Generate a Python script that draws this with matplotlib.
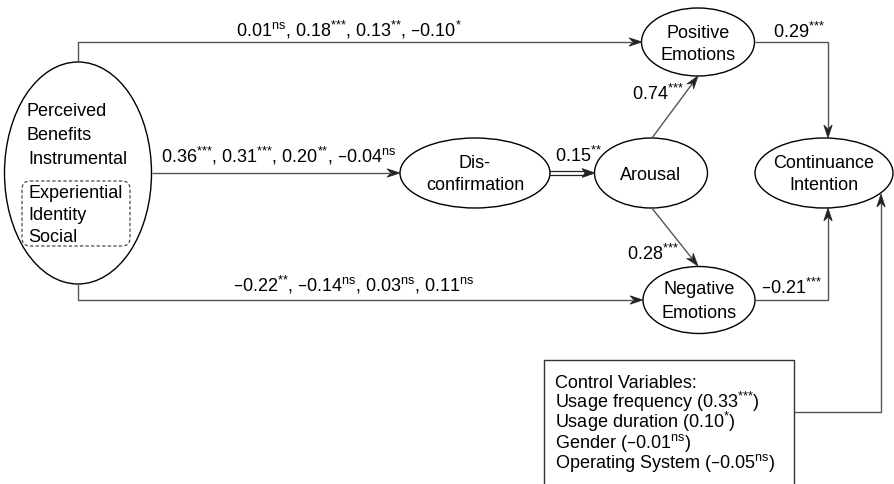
import re
import numpy as np
import matplotlib
matplotlib.use("Agg")
import matplotlib.pyplot as plt
from matplotlib.patches import Ellipse, FancyBboxPatch, Polygon

plt.rcParams['font.family'] = ['Liberation Sans', 'DejaVu Sans']

# ---- data ----
benefit_types = ["Instrumental", "Experiential", "Identity", "Social"]
pb_to_pos = ["0.01ns", "0.18***", "0.13**", "–0.10*"]
pb_to_disc = ["0.36***", "0.31***", "0.20**", "–0.04ns"]
pb_to_neg = ["–0.22**", "–0.14ns", "0.03ns", "0.11ns"]
disc_to_arousal = "0.15**"
arousal_to_pos = "0.74***"
arousal_to_neg = "0.28***"
pos_to_ci = "0.29***"
neg_to_ci = "–0.21***"
control_vars = ["Usage frequency", "Usage duration", "Gender", "Operating System"]
control_coefs = ["0.33***", "0.10*", "–0.01ns", "–0.05ns"]


def fmt(s):
    m = re.match(r"^(.*?)(ns|\*+)$", s)
    if not m:
        return s
    base, sup = m.groups()
    if sup == "ns":
        return base + r"$^{\mathregular{ns}}$"
    return base + "$^{" + r"\mathregular{*}" * len(sup) + "}$"


FS = 13
LC = "#555555"
BL = 6.5  # center -> baseline offset (px)

fig = plt.figure(figsize=(8.94, 4.84), dpi=100)
ax = fig.add_axes([0, 0, 1, 1])
ax.set_xlim(0, 894)
ax.set_ylim(484, 0)
ax.axis("off")


def label(x, y, s, ha="left"):
    ax.text(x, y + BL, s, fontsize=FS, ha=ha, va="baseline")


def ellipse(cx, cy, w, h):
    ax.add_patch(Ellipse((cx, cy), w, h, fill=False, ec="black", lw=1.0))


def head(tip, frm, L=13, W=4.2, notch=4):
    tip = np.array(tip, float)
    d = tip - np.array(frm, float)
    d /= np.hypot(*d)
    n = np.array([-d[1], d[0]])
    pts = [tip, tip - L * d + W * n, tip - (L - notch) * d, tip - L * d - W * n]
    ax.add_patch(Polygon(pts, closed=True, fc="#222222", ec="#222222", lw=0.5))
    return tip - (L - notch) * d


def path(points, arrow=True):
    pts = [np.array(p, float) for p in points]
    if arrow:
        pts[-1] = head(pts[-1], pts[-2])
    ax.plot([p[0] for p in pts], [p[1] for p in pts], color=LC, lw=1.0,
            solid_capstyle="butt")


# ---- nodes ----
ellipse(78, 173, 147, 222)
ax.add_patch(FancyBboxPatch((22, 181), 108, 65,
                            boxstyle="round,pad=0,rounding_size=8",
                            fill=False, ec="#333333", lw=0.8, ls=(0, (3, 2))))
label(26, 110, "Perceived")
label(26, 134, "Benefits")
label(28, 158, benefit_types[0])
for t, y in zip(benefit_types[1:], [192, 213, 235]):
    label(28, y, t)

ellipse(698, 42, 113, 68)
label(698, 31, "Positive", ha="center")
label(698, 53, "Emotions", ha="center")
ellipse(475, 173, 150, 70)
label(475, 162, "Dis-", ha="center")
label(475, 184, "confirmation", ha="center")
ellipse(651, 173, 113, 70)
label(651, 173, "Arousal", ha="center")
ellipse(824, 173, 138, 70)
label(824, 162, "Continuance", ha="center")
label(824, 184, "Intention", ha="center")
ellipse(699, 300, 112, 67)
label(699, 288, "Negative", ha="center")
label(699, 312, "Emotions", ha="center")

# ---- paths ----
path([(78, 62), (78, 42), (642, 42)])
label(236, 30, ", ".join(fmt(s) for s in pb_to_pos))

path([(152, 173), (400, 173)])
label(161, 156, ", ".join(fmt(s) for s in pb_to_disc))

path([(78, 284), (78, 300), (643, 300)])
label(233, 285, ", ".join(fmt(s) for s in pb_to_neg))

# double-line arrow
base = head((595, 173), (550, 173), L=13, W=4.5, notch=3)
for dy in (-2.2, 2.2):
    ax.plot([550, base[0] + 1], [173 + dy, 173 + dy], color="#222222", lw=0.9)
label(555, 156, fmt(disc_to_arousal))

path([(652, 138), (698, 76)])
label(632, 94, fmt(arousal_to_pos))

path([(651, 207), (698, 266)])
label(627, 254, fmt(arousal_to_neg))

path([(755, 42), (828, 42), (828, 138)])
label(773, 31, fmt(pos_to_ci))

path([(755, 300), (828, 300), (828, 208)])
label(761, 287, fmt(neg_to_ci))

# ---- control box ----
ax.plot([544, 544, 794, 794], [486, 360, 360, 486], color="#333333", lw=1.0)
label(555, 382, "Control Variables:")
for i, (v, c) in enumerate(zip(control_vars, control_coefs)):
    label(555, 402 + 20 * i, f"{v} ({fmt(c)})")
path([(794, 412), (881, 412), (881, 194)])

fig.savefig("out.png", dpi=100)
